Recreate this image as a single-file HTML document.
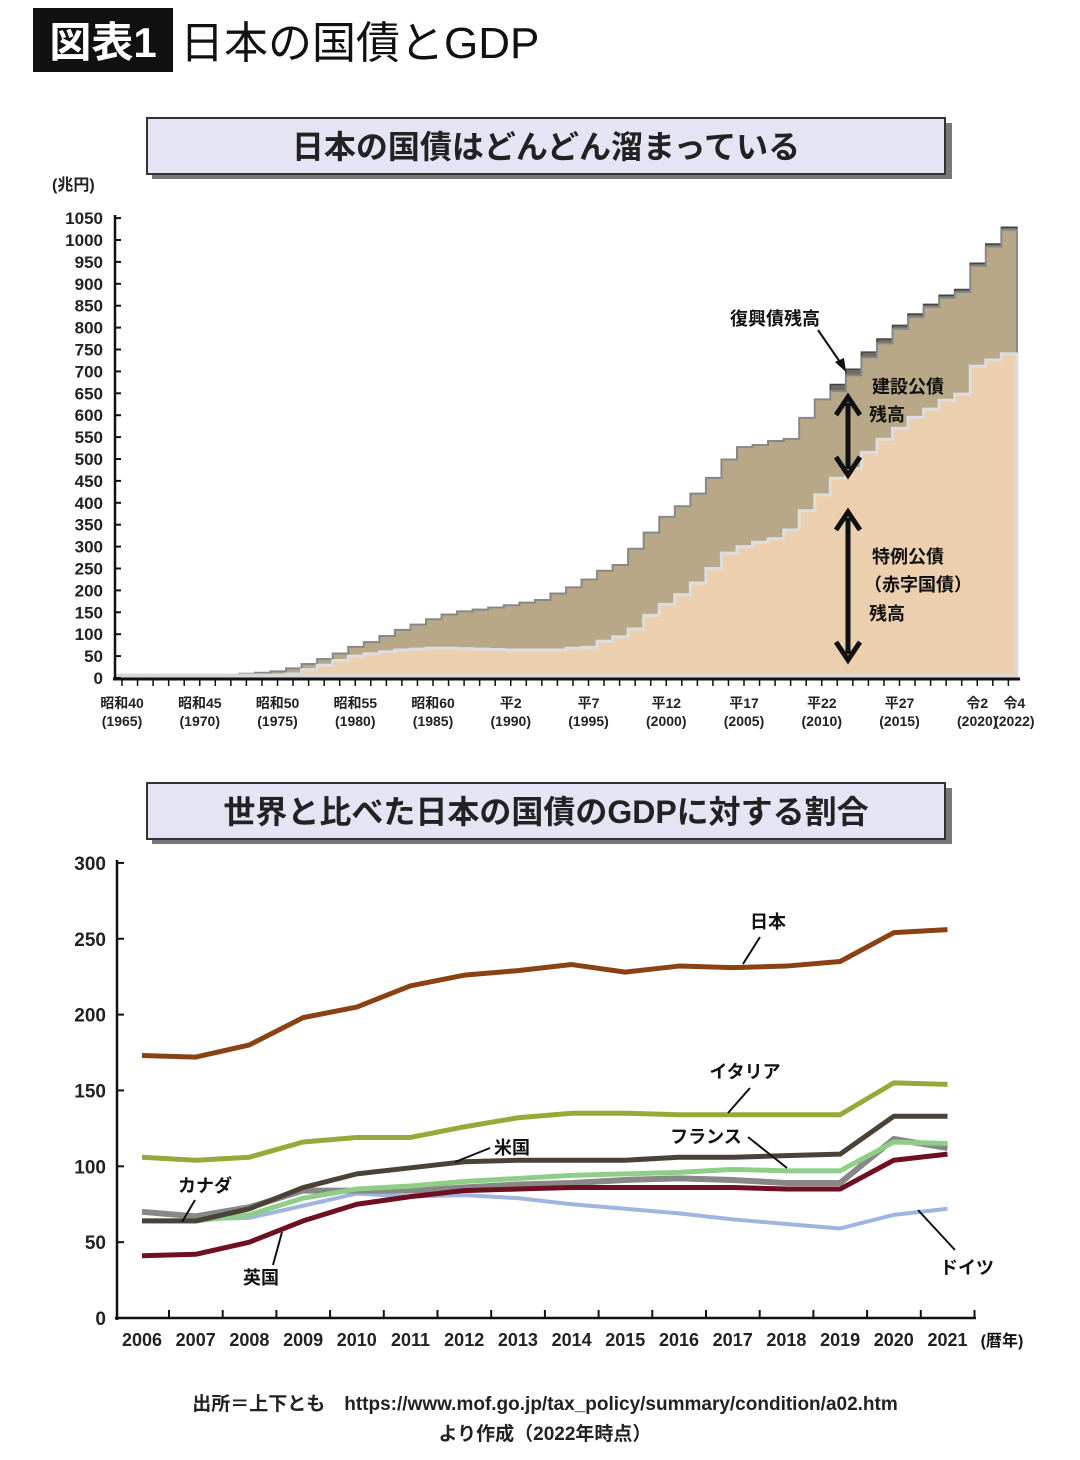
<!DOCTYPE html>
<html><head><meta charset="utf-8"><style>
body{margin:0;background:#fff;}
svg{display:block;font-family:"Liberation Sans","Noto Sans CJK JP",sans-serif;}
</style></head><body>
<svg id="s" width="1080" height="1460" viewBox="0 0 1080 1460" xmlns="http://www.w3.org/2000/svg">
<rect x="0" y="0" width="1080" height="1460" fill="#fff"/>
<rect x="33" y="8" width="140" height="64" fill="#111"/>
<text x="103" y="57" font-size="42" font-weight="bold" fill="#fff" text-anchor="middle">図表1</text>
<text x="180" y="58" font-size="44" fill="#111">日本の国債とGDP</text>

<g>
<rect x="152" y="123" width="800" height="56" fill="#777"/>
<rect x="147" y="118" width="798" height="56" fill="#e4e4f4" stroke="#333" stroke-width="2"/>
<text x="546" y="158" font-size="32" font-weight="bold" fill="#222" text-anchor="middle">日本の国債はどんどん溜まっている</text>
</g>
<g>
<rect x="152" y="788" width="800" height="56" fill="#777"/>
<rect x="147" y="783" width="798" height="56" fill="#e4e4f4" stroke="#333" stroke-width="2"/>
<text x="546" y="823" font-size="32" font-weight="bold" fill="#222" text-anchor="middle">世界と比べた日本の国債のGDPに対する割合</text>
</g>
<text x="52" y="190" font-size="16" font-weight="bold" fill="#222">(兆円)</text>
<g id="topchart"></g>
<g id="botchart"></g>
<text x="545" y="1410" font-size="19" font-weight="bold" fill="#222" text-anchor="middle">出所＝上下とも　https://www.mof.go.jp/tax_policy/summary/condition/a02.htm</text>
<text x="545" y="1440" font-size="19" font-weight="bold" fill="#222" text-anchor="middle">より作成（2022年時点）</text>
</svg>
<script>
const NS="http://www.w3.org/2000/svg";
// ---- top chart data (兆円) ----
const debtYears=[];for(let y=1965;y<=2022;y++)debtYears.push(y);
const totalDebt=[0.2,0.9,1.8,2.7,3.4,3.8,5.5,7.6,9.6,12,15,22,32,43,56,71,82,96,110,122,134,145,152,156,161,166,172,178,193,207,225,245,258,295,332,368,392,421,457,499,527,532,541,546,594,636,670,705,744,774,805,831,853,874,887,947,991,1029];
const deficitDebt=[0,0,0,0,0,0,0,0,0,0,2,9,19,29,40,50,55,60,64,66,68,68,67,66,65,64,64,64,64,68,70,84,94,112,143,168,190,217,250,285,300,310,318,338,382,418,456,478,515,545,570,595,614,634,648,712,726,740];
const reconDebt=[0,0,0,0,0,0,0,0,0,0,0,0,0,0,0,0,0,0,0,0,0,0,0,0,0,0,0,0,0,0,0,0,0,0,0,0,0,0,0,0,0,0,0,0,0,0,15,14,12,10,8,7,6,6,6,6,6,6];
const topTicks=[0,50,100,150,200,250,300,350,400,450,500,550,600,650,700,750,800,850,900,950,1000,1050];
const eraLabels=["昭和40","昭和45","昭和50","昭和55","昭和60","平2","平7","平12","平17","平22","平27","令2","令4"];
const eraYears=[1965,1970,1975,1980,1985,1990,1995,2000,2005,2010,2015,2020,2022];
// ---- bottom chart data (% of GDP) ----
const gdpYears=[2006,2007,2008,2009,2010,2011,2012,2013,2014,2015,2016,2017,2018,2019,2020,2021];
const japan=[173,172,180,198,205,219,226,229,233,228,232,231,232,235,254,256];
const italy=[106,104,106,116,119,119,126,132,135,135,134,134,134,134,155,154];
const usa=[64,64,72,86,95,99,103,104,104,104,106,106,107,108,133,133];
const canada=[70,67,73,84,84,84,86,88,89,91,92,91,89,89,118,112];
const france=[64,64,68,79,85,87,90,92,94,95,96,98,97,97,116,115];
const uk=[41,42,50,64,75,80,84,85,86,86,86,86,85,85,104,108];
const germany=[null,65,66,74,82,80,81,79,75,72,69,65,62,59,68,72];
const botTicks=[0,50,100,150,200,250,300];

const topG=document.getElementById('topchart'),botG=document.getElementById('botchart');
function mk(p,tag,at,txt){const el=document.createElementNS(NS,tag);for(const k in at)el.setAttribute(k,at[k]);if(txt!=null)el.textContent=txt;p.appendChild(el);return el;}

const tx=y=>115+(y-1965)*15.55, ty=v=>678-v*0.438;
function stepPath(vals){let d=`M${tx(1965)},${ty(0)}`;vals.forEach((v,i)=>{d+=`L${tx(debtYears[i])},${ty(v)}L${tx(debtYears[i]+1)},${ty(v)}`;});return d+`L${tx(2023)},${ty(0)}Z`;}
const noRecon=totalDebt.map((v,i)=>v-reconDebt[i]);
let e;
e=mk(topG,'path',{d:stepPath(totalDebt),fill:'#6f6a63',stroke:'#444','stroke-width':1.5});


e=mk(topG,'path',{d:stepPath(noRecon),fill:'#b8a887',stroke:'#888','stroke-width':2});


e=mk(topG,'path',{d:stepPath(deficitDebt),fill:'#eccfae',stroke:'#ddd','stroke-width':3});


mk(topG,'path',{d:`M${tx(1965)},${ty(0)-2}L${tx(2023)},${ty(0)-2}`,stroke:'#d8d8d8','stroke-width':5});
mk(topG,'line',{x1:115,y1:215,x2:115,y2:680,stroke:'#111','stroke-width':2.5});
mk(topG,'line',{x1:113,y1:679,x2:1020,y2:679,stroke:'#111','stroke-width':3});
topTicks.forEach(t=>{
 mk(topG,'line',{x1:115,y1:ty(t),x2:121,y2:ty(t),stroke:'#111','stroke-width':2});
 e=mk(topG,'text',{x:103,y:ty(t)+6,'font-size':17,'font-weight':'bold','text-anchor':'end',fill:'#222'},String(t));
 
 
});
debtYears.forEach(y=>mk(topG,'line',{x1:tx(y)+7,y1:679,x2:tx(y)+7,y2:686,stroke:'#111','stroke-width':1.5}));
eraLabels.forEach((l,i)=>{
 const cx=tx(eraYears[i])+7+(eraYears[i]===2022?6:0);
 e=mk(topG,'text',{x:cx,y:708,'font-size':14,'font-weight':'bold','text-anchor':'middle',fill:'#222'},l);
 
 
 e=mk(topG,'text',{x:cx,y:726,'font-size':14,'font-weight':'bold','text-anchor':'middle',fill:'#222'},`(${eraYears[i]})`);
 
 
});
function lbl(p,x,y,t,name,fs){const el=mk(p,'text',{x:x,y:y,'font-size':fs||18,'font-weight':'bold',fill:'#111','text-anchor':'middle'},t);
 
 
 return el;}
lbl(topG,775,325,'復興債残高','reconstruction-label');
mk(topG,'line',{x1:818,y1:330,x2:842,y2:365,stroke:'#111','stroke-width':2});
mk(topG,'path',{d:'M846,372L835,362L844,358Z',fill:'#111'});
lbl(topG,908,393,'建設公債','construction-label');lbl(topG,887,421,'残高','construction-label-2');
lbl(topG,908,563,'特例公債','deficit-label');lbl(topG,918,591,'（赤字国債）','deficit-label-2');lbl(topG,887,620,'残高','deficit-label-3');
function dbl(y1,y2){mk(topG,'line',{x1:848,y1:y1+6,x2:848,y2:y2-6,stroke:'#111','stroke-width':5});
 mk(topG,'path',{d:`M836,${y1+18}L848,${y1}L860,${y1+18}`,fill:'none',stroke:'#111','stroke-width':5});
 mk(topG,'path',{d:`M836,${y2-18}L848,${y2}L860,${y2-18}`,fill:'none',stroke:'#111','stroke-width':5});}
dbl(397,475);dbl(512,660);

// bottom chart
const bx=y=>142+(y-2006)*53.7, by=v=>1318-v*1.517;
mk(botG,'line',{x1:117,y1:860,x2:117,y2:1320,stroke:'#111','stroke-width':2.5});
mk(botG,'line',{x1:115,y1:1318,x2:976,y2:1318,stroke:'#111','stroke-width':2.5});
botTicks.forEach(t=>{mk(botG,'line',{x1:117,y1:by(t),x2:124,y2:by(t),stroke:'#111','stroke-width':2});
 e=mk(botG,'text',{x:106,y:by(t)+7,'font-size':19,'font-weight':'bold','text-anchor':'end',fill:'#222'},String(t));
 
 });
gdpYears.forEach(y=>{mk(botG,'line',{x1:bx(y)+27,y1:1318,x2:bx(y)+27,y2:1310,stroke:'#111','stroke-width':2});
 e=mk(botG,'text',{x:bx(y),y:1346,'font-size':18,'font-weight':'bold','text-anchor':'middle',fill:'#222'},String(y));
 
 });
lbl(botG,1002,1346,'(暦年)','bottom-x-unit',16);
function line(vals,color,w,name){let d='';vals.forEach((v,i)=>{if(v==null)return;d+=(d?'L':'M')+bx(gdpYears[i])+','+by(v);});
 const el=mk(botG,'path',{d:d,fill:'none',stroke:color,'stroke-width':w,'stroke-linejoin':'round'});
 
 }
line(germany,'#9fb5e0',4,'line-germany');
line(canada,'#888',6,'line-canada');
line(france,'#8fce86',5,'line-france');
line(usa,'#4a4236',5,'line-usa');
line(uk,'#6e1020',5,'line-uk');
line(italy,'#9aa83a',5,'line-italy');
line(japan,'#8a4214',5,'line-japan');
lbl(botG,768,928,'日本','japan-label');mk(botG,'line',{x1:760,y1:937,x2:743,y2:964,stroke:'#111','stroke-width':2});
lbl(botG,745,1078,'イタリア','italy-label');mk(botG,'line',{x1:750,y1:1088,x2:728,y2:1113,stroke:'#111','stroke-width':2});
lbl(botG,512,1154,'米国','usa-label');mk(botG,'line',{x1:490,y1:1148,x2:455,y2:1162,stroke:'#111','stroke-width':2});
lbl(botG,706,1143,'フランス','france-label');mk(botG,'line',{x1:748,y1:1137,x2:787,y2:1168,stroke:'#111','stroke-width':2});
lbl(botG,205,1192,'カナダ','canada-label');mk(botG,'line',{x1:195,y1:1200,x2:182,y2:1222,stroke:'#111','stroke-width':2});
lbl(botG,261,1284,'英国','uk-label');mk(botG,'line',{x1:273,y1:1265,x2:282,y2:1232,stroke:'#111','stroke-width':2});
lbl(botG,967,1274,'ドイツ','germany-label');mk(botG,'line',{x1:955,y1:1250,x2:918,y2:1210,stroke:'#111','stroke-width':2});
</script>
</body></html>
